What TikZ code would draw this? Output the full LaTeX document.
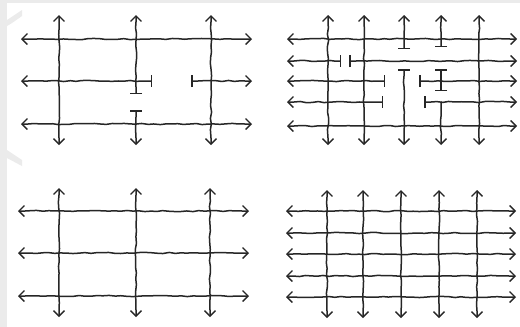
\documentclass[tikz,border=0pt]{standalone}
\usetikzlibrary{arrows.meta,decorations.pathmorphing}
\definecolor{ink}{HTML}{262626}
\definecolor{wm}{HTML}{EBEBEB}
\tikzset{
  sk/.style={draw=ink, line width=1.5pt, line cap=round, decorate,
    decoration={random steps, segment length=6pt, amplitude=0.6pt, pre length=7pt, post length=7pt}},
  tipv/.tip={Straight Barb[length=5.5pt,width=11pt,line width=1.4pt]},
  tipb/.tip={Bar[width=12pt,line width=1.5pt]},
  aa/.style={sk, arrows={tipv-tipv}},
  ba/.style={sk, arrows={tipb-tipv}},
  ab/.style={sk, arrows={tipv-tipb}},
  bb/.style={sk, arrows={tipb-tipb}},
  na/.style={sk, arrows={-tipv}}
}
\begin{document}
\begin{tikzpicture}[x=1pt,y=-1pt]
\pgfmathsetseed{7}
\useasboundingbox (0,0) rectangle (520,327);
\fill[white] (0,0) rectangle (520,327);
% faint watermark
\fill[wm] (0,0) rectangle (520,3);
\fill[wm] (0,3) rectangle (7,327);
\fill[wm] (7,20) -- (22,10) -- (22,16) -- (12,23) -- (7,26) -- cycle;
\fill[wm] (7,150) -- (22,160) -- (22,166) -- (7,158) -- cycle;

% ---------- top left ----------
\foreach \x in {59,211} \draw[aa] (\x,15) -- (\x,145);
\draw[ab] (136,15) -- (136,94);
\draw[ba] (136,110) -- (136,145);
\foreach \y in {39,124} \draw[aa] (21,\y) -- (252,\y);
\draw[ab] (21,81) -- (152,81);
\draw[ba] (191,81) -- (252,81);

% ---------- top right ----------
\foreach \x in {328,364,479} \draw[aa] (\x,15) -- (\x,145);
\draw[ab] (404,15) -- (404,49);
\draw[ba] (404,69) -- (404,145);
\draw[ab] (441,15) -- (441,47);
\draw[bb] (441,69) -- (441,91);
\draw[na] (441,102) -- (441,145);
\foreach \y in {39,126} \draw[aa] (287,\y) -- (517,\y);
\draw[ab] (287,61) -- (341,61);
\draw[ba] (349,61) -- (517,61);
\draw[ab] (287,81) -- (385,81);
\draw[ba] (419,81) -- (517,81);
\draw[ab] (287,102) -- (383,102);
\draw[ba] (424,102) -- (517,102);

% ---------- bottom left ----------
\foreach \x in {59,136,210} \draw[aa] (\x,188) -- (\x,317);
\foreach \y in {211,253,296} \draw[aa] (18,\y) -- (249,\y);

% ---------- bottom right ----------
\foreach \x in {327,363,401,439,477} \draw[aa] (\x,190) -- (\x,318);
\foreach \y in {211,233,254,276,297} \draw[aa] (286,\y) -- (516,\y);
\end{tikzpicture}
\end{document}
